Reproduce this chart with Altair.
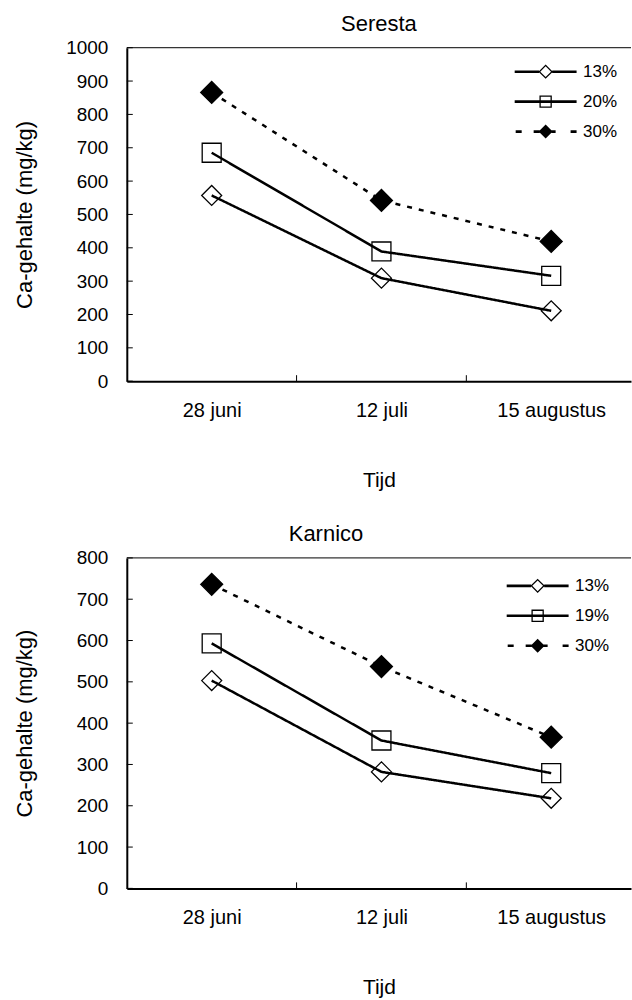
import json
import altair as alt
import pandas as pd

# ---------------- data ----------------
dates = ["28 juni", "12 juli", "15 augustus"]

seresta_series = ["13%", "20%", "30%"]
seresta_13 = [557, 309, 211]
seresta_20 = [685, 389, 316]
seresta_30 = [866, 542, 419]

karnico_series = ["13%", "19%", "30%"]
karnico_13 = [503, 282, 218]
karnico_19 = [593, 358, 279]
karnico_30 = [736, 537, 366]

# ---------------- styles ----------------
FONT = "Liberation Sans"
W = 505
marker_shapes = ["diamond", "square", "diamond"]
marker_fills = ["white", "white", "black"]
marker_sizes = [400, 361, 484]
line_dashes = [[1, 0], [1, 0], [5, 7]]

# legend symbols as filled outlines (units of 10 px at symbolSize 400)
def _rect(x0, x1, t=0.13):
    return f"M{x0},{-t}L{x1},{-t}L{x1},{t}L{x0},{t}Z"

_hollow_diamond = ("M0,-0.72L0.72,0L0,0.72L-0.72,0Z"
                   "M0,-0.54L-0.54,0L0,0.54L0.54,0Z")
_hollow_square = ("M-0.62,-0.62L0.62,-0.62L0.62,0.62L-0.62,0.62Z"
                  "M-0.49,-0.49L-0.49,0.49L0.49,0.49L0.49,-0.49Z")
_solid_diamond = "M0,-0.7L0.7,0L0,0.7L-0.7,0Z"
legend_paths = [
    _rect(-3.1, -0.66) + _rect(0.66, 3.1) + _hollow_diamond,
    _rect(-3.1, 3.1) + _hollow_square,
    _rect(-3.0, -2.4) + _rect(-1.2, -0.6) + _rect(0.6, 1.0) + _rect(2.5, 3.1) + _solid_diamond,
]


def panel(title, series, values, ymax, H, lx, ly, title_dx):
    rows = []
    for s, vals in zip(series, values):
        for i, v in enumerate(vals):
            rows.append({"series": s, "idx": i, "val": v})
    df = pd.DataFrame(rows)

    x_scale = alt.Scale(domain=[-0.5, 2.47], nice=False, zero=False)
    y_scale = alt.Scale(domain=[0, ymax], nice=False)
    yticks = list(range(0, ymax + 1, 100))

    x_axis = alt.Axis(
        values=list(range(len(dates))),
        labelExpr=json.dumps(dates) + "[datum.value]",
        title="Tijd", ticks=False, grid=False,
        domainWidth=2, domainColor="black",
        labelPadding=29, labelBaseline="middle", labelFontSize=20,
        titleFontSize=21, titleY=99, titleBaseline="middle",
        titleFontWeight="normal", labelFlush=False,
    )
    y_axis = alt.Axis(
        values=yticks, format="d", title="Ca-gehalte (mg/kg)", ticks=False,
        grid=False, domainWidth=2, domainColor="black",
        labelPadding=19, labelFontSize=19, titleFontSize=22,
        titleX=-102, titleBaseline="middle", titleFontWeight="normal",
        labelFlush=False,
    )
    X = alt.X("idx:Q", scale=x_scale, axis=x_axis)
    Y = alt.Y("val:Q", scale=y_scale, axis=y_axis)

    layers = []
    # legend carrier (drawn at size 0, only provides the legend)
    leg = alt.Legend(orient="none", legendX=lx, legendY=ly, title=None,
                     labelFont=FONT, labelFontSize=17, labelOffset=27.5,
                     symbolSize=400, rowPadding=12, padding=0,
                     symbolFillColor="black", symbolStrokeWidth=0,
                     symbolOpacity=1, labelColor="black")
    layers.append(
        alt.Chart(df)
        .mark_point(filled=True, color="black", opacity=1, size=0)
        .encode(
            x=X, y=Y,
            shape=alt.Shape("series:N", scale=alt.Scale(domain=series, range=legend_paths), legend=leg),
        )
    )
    for j, s in enumerate(series):
        layers.append(
            alt.Chart(df).transform_filter(alt.datum.series == s)
            .mark_point(shape=marker_shapes[j], filled=True, fill=marker_fills[j],
                        stroke="black", strokeWidth=1.3, size=marker_sizes[j], opacity=1)
            .encode(x=X, y=Y)
        )
    layers.append(
        alt.Chart(df).mark_line(color="black", strokeWidth=2.5).encode(
            x=X, y=Y,
            strokeDash=alt.StrokeDash("series:N",
                                      scale=alt.Scale(domain=series, range=line_dashes),
                                      legend=None),
        )
    )
    # frame: top border
    layers.append(
        alt.Chart(pd.DataFrame({"val": [ymax]})).mark_rule(color="black", strokeWidth=1)
        .encode(y=Y, x=alt.value(0), x2=alt.value(W))
    )
    # inward y ticks
    layers.append(
        alt.Chart(pd.DataFrame({"val": yticks})).mark_rule(color="black", strokeWidth=1)
        .encode(y=Y, x=alt.value(0), x2=alt.value(6))
    )
    # inward x ticks between categories
    bounds = [i + 0.5 for i in range(len(dates) - 1)]
    layers.append(
        alt.Chart(pd.DataFrame({"idx": bounds})).mark_rule(color="black", strokeWidth=1)
        .encode(x=X, y=alt.value(H), y2=alt.value(H - 6))
    )

    return alt.layer(*layers).properties(
        width=W, height=H,
        title=alt.TitleParams(title, font=FONT, fontSize=22, fontWeight="normal",
                              anchor="middle", offset=14, baseline="alphabetic",
                              frame="group", dx=title_dx, dy=28, color="black"),
    )


top = panel("Seresta", seresta_series, [seresta_13, seresta_20, seresta_30],
            1000, 334, 409.5, 14, 0)
bottom = panel("Karnico", karnico_series, [karnico_13, karnico_19, karnico_30],
               800, 331, 401.5, 18, -53)

chart = (
    alt.vconcat(top, bottom, spacing=33)
    .resolve_scale(shape="independent", strokeDash="independent")
    .resolve_legend(shape="independent", strokeDash="independent")
    .properties(padding={"left": 14, "top": 12, "right": 0, "bottom": 0})
    .configure_view(stroke=None)
    .configure_axis(labelFont=FONT, titleFont=FONT, labelColor="black", titleColor="black")
    .configure_legend(labelFont=FONT)
)

chart.save("out.html", embed_options={"renderer": "svg", "actions": False})
